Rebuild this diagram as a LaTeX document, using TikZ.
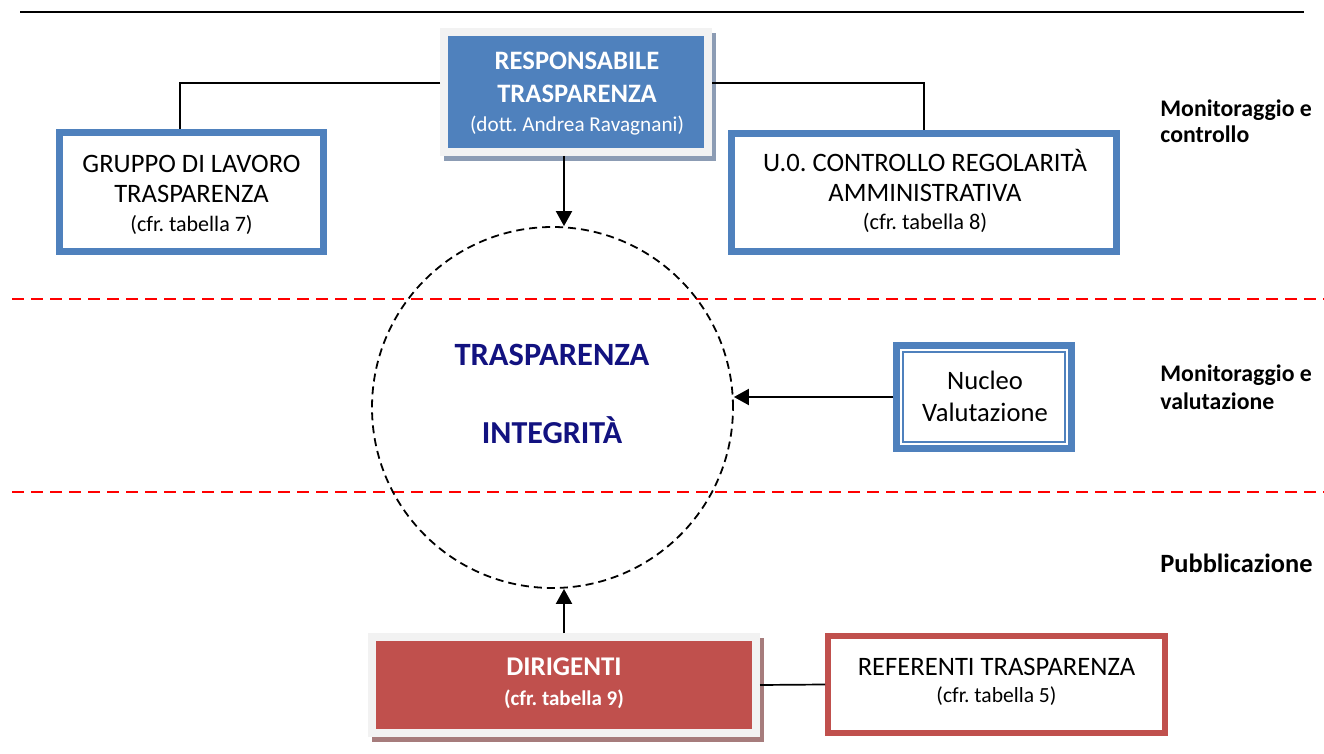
\documentclass[tikz,border=0pt]{standalone}
\usepackage{fontspec}
\setmainfont{Carlito}
\frenchspacing
\usetikzlibrary{arrows.meta}
\definecolor{blueA}{RGB}{79,129,189}
\definecolor{redA}{RGB}{192,80,77}
\definecolor{frameG}{RGB}{242,242,242}
\definecolor{navyT}{RGB}{18,18,128}
\definecolor{shadB}{RGB}{140,156,180}
\definecolor{shadR}{RGB}{166,124,124}
\newcommand{\fs}[1]{\fontsize{#1}{#1}\selectfont}
\tikzset{
  box/.style={rectangle, inner sep=0pt},
  bluebox/.style={box, draw=blueA, fill=white, line width=3.5pt},
  redbox/.style={box, draw=redA, fill=white, line width=3pt},
  framed/.style={box, draw=frameG, line width=4pt},
  txt/.style={anchor=base, inner sep=0pt},
  lbl/.style={anchor=base west, inner sep=0pt, font=\fs{11.9}\bfseries},
  conn/.style={line width=0.85pt, black},
  arr/.style={line width=1pt, black, -{Triangle[length=7.5pt,width=8pt]}},
  sep/.style={red, line width=1pt, dash pattern=on 6pt off 3.5pt},
}
\begin{document}
\begin{tikzpicture}[x=0.5pt,y=-0.5pt]
\useasboundingbox (0,0) rectangle (1324,754);
% top rule
\draw[line width=1pt] (20,12) -- (1304,12);
% separators
\draw[sep] (12,299) -- (1324,299);
\draw[sep] (12,492) -- (1324,492);
% circle
\node[circle, draw, dash pattern=on 4pt off 2.5pt, line width=0.9pt, minimum size=180.5pt, inner sep=0pt] (circ) at (552.5,407.5) {};
\node[txt, font=\fs{16.25}\bfseries, text=navyT] (t1) at (552,366) {TRASPARENZA};
\node[txt, font=\fs{16}\bfseries, text=navyT] (t2) at (552,444) {INTEGRITÀ};
% responsabile
\fill[shadB] (444,33) rectangle (716,161);
\node[framed, fill=blueA, minimum width=132pt, minimum height=60pt] (resp) at (576,92) {};
\node[txt, font=\fs{13.3}\bfseries, text=white] (r1) at (577,70) {RESPONSABILE};
\node[txt, font=\fs{13.3}\bfseries, text=white] (r2) at (577,103) {TRASPARENZA};
\node[txt, font=\fs{10.6}, text=white] (r3) at (577,132) {(dott. Andrea Ravagnani)};
% gruppo
\node[bluebox, minimum width=132pt, minimum height=59.5pt] (grp) at (191.5,192) {};
\node[txt, font=\fs{13.3}] (g1) at (191.5,173) {GRUPPO DI LAVORO};
\node[txt, font=\fs{13.3}] (g2) at (191.5,203) {TRASPARENZA};
\node[txt, font=\fs{11}] (g3) at (191.5,232) {(cfr. tabella 7)};
% UO
\node[bluebox, minimum width=192.5pt, minimum height=59pt] (uo) at (924,192.5) {};
\node[txt, font=\fs{13.3}] (u1) at (925,172) {U.0. CONTROLLO REGOLARITÀ};
\node[txt, font=\fs{13.3}] (u2) at (925,202) {AMMINISTRATIVA};
\node[txt, font=\fs{11.2}] (u3) at (925,230) {(cfr. tabella 8)};
% nucleo
\node[bluebox, minimum width=87.5pt, minimum height=51.5pt] (nuc) at (984,397) {};
\node[box, draw=blueA, line width=0.6pt, minimum width=81pt, minimum height=45pt] (nucin) at (984,397) {};
\node[txt, font=\fs{13.3}] (n1) at (985,390) {Nucleo};
\node[txt, font=\fs{13.3}] (n2) at (985,422) {Valutazione};
% dirigenti
\fill[shadR] (372,638) rectangle (764,742);
\node[framed, fill=redA, minimum width=192pt, minimum height=48pt] (dir) at (564,685) {};
\node[txt, font=\fs{13.5}\bfseries, text=white] (d1) at (564,675) {DIRIGENTI};
\node[txt, font=\fs{10.5}\bfseries, text=white] (d2) at (564,705) {(cfr. tabella 9)};
% referenti
\node[redbox, minimum width=168.5pt, minimum height=48.5pt] (ref) at (996.5,684.5) {};
\node[txt, font=\fs{13.3}] (f1) at (996.5,675) {REFERENTI TRASPARENZA};
\node[txt, font=\fs{10.8}] (f2) at (996.5,702) {(cfr. tabella 5)};
% right labels
\node[lbl] (l1) at (1160,117) {Monitoraggio e};
\node[lbl] (l2) at (1160,143) {controllo};
\node[lbl] (l3) at (1160,382) {Monitoraggio e};
\node[lbl] (l4) at (1160,410) {valutazione};
\node[lbl, font=\fs{13.2}\bfseries] (l5) at (1160,573) {Pubblicazione};
% connectors
\coordinate (cl) at (180,83);
\coordinate (cr) at (924,83);
\coordinate (ax) at (564,0);
\draw[conn] (resp.west |- cl) -| (grp.north -| cl);
\draw[conn] (resp.east |- cr) -| (uo.north);
\draw[arr] (resp.south -| ax) -- (circ.north -| ax);
\draw[arr] (dir.north -| ax) -- (circ.south -| ax);
\draw[arr] (nuc.west) -- (circ.east |- nuc.west);
\draw[conn] (dir.east) -- (ref.west);
\end{tikzpicture}
\end{document}
